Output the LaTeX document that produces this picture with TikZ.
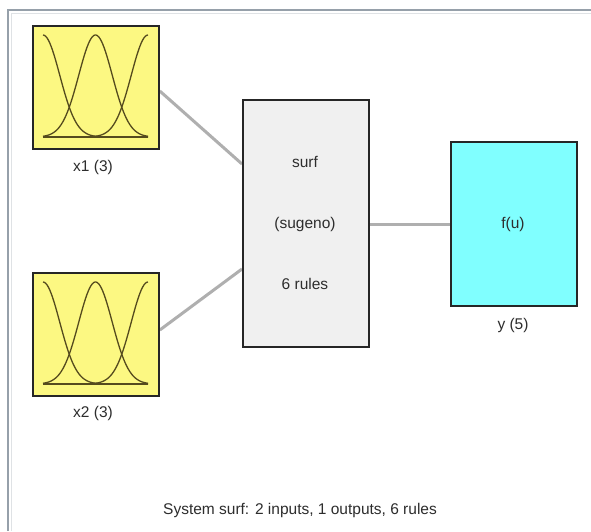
\documentclass[tikz,border=0pt]{standalone}
\usepackage{fontspec}
\setmainfont{Liberation Sans}
\definecolor{mfyellow}{RGB}{252,248,130}
\definecolor{mfcyan}{RGB}{128,255,255}
\definecolor{rulegray}{RGB}{240,240,240}
\definecolor{linkgray}{RGB}{175,175,175}
\definecolor{curvecol}{RGB}{85,75,30}
\definecolor{framecol}{RGB}{150,160,170}
\definecolor{txtcol}{RGB}{45,45,45}
\tikzset{
  blk/.style={draw=black!85, line width=1.8pt, inner sep=0pt, anchor=north west},
  mfbox/.style={blk, fill=mfyellow, minimum width=126pt, minimum height=123pt},
  rulebox/.style={blk, fill=rulegray, minimum width=126pt, minimum height=247pt},
  outbox/.style={blk, fill=mfcyan, minimum width=126pt, minimum height=164pt},
  lbl/.style={font=\fontsize{15.5}{18}\selectfont, text=txtcol, inner sep=0pt},
  link/.style={draw=linkgray, line width=3pt},
  mf/.style={draw=curvecol, line width=1.3pt}
}
\begin{document}
\begin{tikzpicture}[x=1pt,y=-1pt]
\useasboundingbox (0,0) rectangle (591,531);
\fill[white] (0,0) rectangle (591,531);
% frame
\draw[framecol, line width=2pt] (8,531) -- (8,10) -- (591,10);
\draw[framecol!30, line width=1pt] (11,531) -- (11,13) -- (591,13);
% blocks
\node[mfbox] (x1) at (32,25) {};
\node[mfbox] (x2) at (32,272) {};
\node[rulebox] (surf) at (242,99) {};
\node[outbox] (y) at (450,141) {};
% connectors
\coordinate (x1o) at ([yshift=-66pt]x1.north east);
\coordinate (x2o) at ([yshift=-58pt]x2.north east);
\coordinate (si1) at ([yshift=-65pt]surf.north west);
\coordinate (si2) at ([yshift=-170pt]surf.north west);
\coordinate (so) at ([yshift=-125pt]surf.north east);
\draw[link] (x1o) -- (si1);
\draw[link] (x2o) -- (si2);
\draw[link] (so) -- (so -| y.west);
% redraw borders over connectors
\node[mfbox, fill=none] at (32,25) {};
\node[mfbox, fill=none] at (32,272) {};
\node[rulebox, fill=none] at (242,99) {};
\node[outbox, fill=none] at (450,141) {};
% membership functions
\foreach \oy in {0,247}{
  \begin{scope}[yshift=-\oy pt]
  \draw[mf] (43,137) -- (148,137);
  \foreach \c in {43,95.5,148}{
    \draw[mf] plot[domain=43:148, samples=80, smooth] (\x, {137 - 102*exp(-((\x-\c)*(\x-\c))/560)});
  }
  \end{scope}
}
% labels
\node[lbl] (x1l) at (93,167) {x1 (3)};
\node[lbl] (x2l) at (93,413) {x2 (3)};
\node[lbl] (t1) at (305,162) {surf};
\node[lbl] (t2) at (305,224) {(sugeno)};
\node[lbl] (t3) at (305,284) {6 rules};
\node[lbl] (fu) at (513,224) {f(u)};
\node[lbl] (yl) at (513,325) {y (5)};
\node[lbl] (sys) at (300,510) {System surf: 2 inputs, 1 outputs, 6 rules};
\end{tikzpicture}
\end{document}
